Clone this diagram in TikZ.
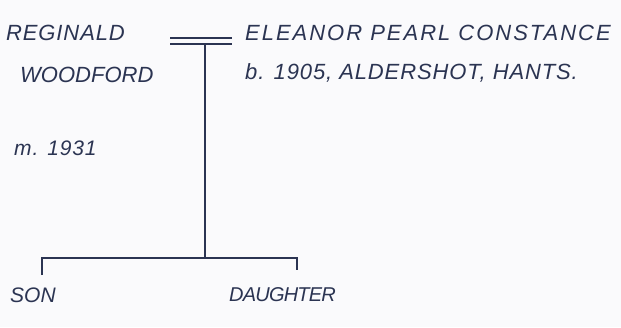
\documentclass[tikz,border=0pt]{standalone}
\usepackage{fontspec}
\newfontfamily\handwide[LetterSpace=9]{Liberation Sans}
\newfontfamily\handmid[LetterSpace=4]{Liberation Sans}
\newfontfamily\handtight[LetterSpace=0]{Liberation Sans}
\newfontfamily\handnarrow[LetterSpace=-4]{Liberation Sans}
\definecolor{ink}{HTML}{2B3452}
\definecolor{paper}{HTML}{FAFAFC}
\begin{document}
\begin{tikzpicture}[x=1pt,y=-1pt,
  lbl/.style={text=ink,font=\handmid\itshape\fontsize{22}{24}\selectfont,inner sep=0pt,anchor=west},
  wide/.style={lbl,font=\handwide\itshape\fontsize{22}{24}\selectfont},
  tight/.style={lbl,font=\handtight\itshape\fontsize{21}{24}\selectfont},
  narrow/.style={lbl,font=\handnarrow\itshape\fontsize{20}{22}\selectfont},
  pen/.style={draw=ink,line width=1.3pt}]
\fill[paper] (0,0) rectangle (621,327);
\useasboundingbox (0,0) rectangle (621,327);
\node[lbl] (reg) at (6,33) {REGINALD};
\node[tight,font=\handtight\itshape\fontsize{22}{24}\selectfont] (woo) at (20,75) {WOODFORD};
\node[wide] (ele) at (245,33) {ELEANOR PEARL CONSTANCE};
\node[lbl] (born) at (245,73) {b. 1905, ALDERSHOT, HANTS.};
\node[lbl,font=\handmid\itshape\fontsize{21}{24}\selectfont] (mar) at (14,148) {m. 1931};
\node[tight] (son) at (10,295) {SON};
\node[narrow] (dau) at (229,295) {DAUGHTER};
\coordinate (m1) at (170,38);
\coordinate (m2) at (232,38);
\coordinate (m3) at (170,44);
\coordinate (m4) at (232,44);
\coordinate (top) at (205,44);
\coordinate (bot) at (205,258);
\coordinate (hl) at (42,258);
\coordinate (hr) at (297,258);
\coordinate (tl) at (42,275);
\coordinate (tr) at (297,270);
\draw[pen] (m1) -- (m2);
\draw[pen] (m3) -- (m4);
\draw[pen] (top) -- (bot);
\draw[pen] (tl) -- (hl) -- (hr) -- (tr);
\end{tikzpicture}
\end{document}
